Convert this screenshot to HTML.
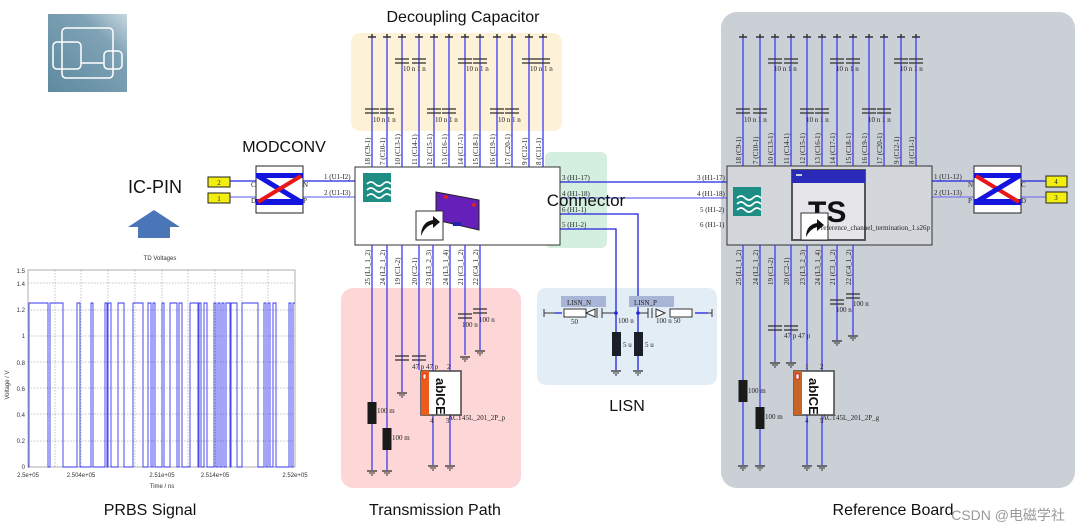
<!DOCTYPE html>
<html><head><meta charset="utf-8"><style>
html,body{margin:0;padding:0;background:#fff;width:1080px;height:531px;overflow:hidden}
svg{display:block}
.t{font-family:"Liberation Sans","Noto Sans CJK SC",sans-serif;fill:#111}
.s{font-family:"Liberation Serif",serif;font-size:7px;fill:#222}
</style></head><body>
<svg width="1080" height="531" viewBox="0 0 1080 531" xmlns="http://www.w3.org/2000/svg">
<defs>
<g id="gt"><line x1="-4" y1="0" x2="4" y2="0" stroke="#333" stroke-width="1.5"/><line x1="0" y1="-3" x2="0" y2="0" stroke="#333" stroke-width="1.5"/></g>
<g id="gb"><line x1="-5" y1="0" x2="5" y2="0" stroke="#333" stroke-width="1.3"/><line x1="-3" y1="2" x2="3" y2="2" stroke="#333" stroke-width="1"/><line x1="-1" y1="4" x2="1" y2="4" stroke="#333"/></g>
<g id="cp"><line x1="-7" y1="-2" x2="7" y2="-2" stroke="#333" stroke-width="1.3"/><line x1="-7" y1="2" x2="7" y2="2" stroke="#333" stroke-width="1.3"/></g>
<g id="rs"><rect x="-4.5" y="0" width="9" height="22" fill="#1a1a1a"/></g>
<linearGradient id="ig" x1="0" y1="1" x2="1" y2="0"><stop offset="0" stop-color="#5e8aa0"/><stop offset="0.7" stop-color="#7fa2b5"/><stop offset="1" stop-color="#c8d8e0"/></linearGradient>
</defs>

<rect x="351" y="33" width="211" height="98" rx="9" fill="#fdf1d8"/>
<rect x="545" y="152" width="62" height="96" rx="6" fill="#d4efdf"/>
<rect x="341" y="288" width="180" height="200" rx="12" fill="#fdd7d7"/>
<rect x="537" y="288" width="180" height="97" rx="9" fill="#e3edf6"/>
<rect x="721" y="12" width="354" height="476" rx="16" fill="#cbd0d7"/>

<rect x="48" y="14" width="79" height="78" fill="url(#ig)"/>
<g fill="none" stroke="#fff" stroke-width="1.5"><rect x="62" y="28" width="51" height="50" rx="4"/><rect x="53" y="42" width="28" height="27" rx="4"/><rect x="104" y="51" width="18" height="18" rx="4"/><line x1="81" y1="63" x2="104" y2="63"/></g>

<text class="t" x="463" y="22" font-size="16" text-anchor="middle">Decoupling Capacitor</text>
<text class="t" x="284" y="152" font-size="16" text-anchor="middle">MODCONV</text>
<text class="t" x="155" y="193" font-size="18" text-anchor="middle">IC-PIN</text>
<text class="t" x="627" y="411" font-size="16" text-anchor="middle">LISN</text>
<text class="t" x="150" y="515" font-size="16" text-anchor="middle">PRBS Signal</text>
<text class="t" x="435" y="515" font-size="16" text-anchor="middle">Transmission Path</text>
<text class="t" x="893" y="515" font-size="16" text-anchor="middle">Reference Board</text>
<text x="1065" y="520" font-size="14" text-anchor="end" fill="#999" font-family="Liberation Sans,Noto Sans CJK SC,sans-serif">CSDN @电磁学社</text>

<polygon points="128,227 154,210 180,227 170,227 170,238 138,238 138,227" fill="#4a76b8"/>

<g stroke="#3c3cf0" stroke-width="1.3">
<line x1="372" y1="36" x2="372" y2="167"/><line x1="387" y1="36" x2="387" y2="167"/><line x1="402" y1="36" x2="402" y2="167"/><line x1="419" y1="36" x2="419" y2="167"/><line x1="434" y1="36" x2="434" y2="167"/><line x1="449" y1="36" x2="449" y2="167"/><line x1="465" y1="36" x2="465" y2="167"/><line x1="480" y1="36" x2="480" y2="167"/><line x1="497" y1="36" x2="497" y2="167"/><line x1="512" y1="36" x2="512" y2="167"/><line x1="529" y1="36" x2="529" y2="167"/><line x1="543" y1="36" x2="543" y2="167"/>
</g>
<g><use href="#gt" x="372" y="37"/><use href="#gt" x="387" y="37"/><use href="#gt" x="402" y="37"/><use href="#gt" x="419" y="37"/><use href="#gt" x="434" y="37"/><use href="#gt" x="449" y="37"/><use href="#gt" x="465" y="37"/><use href="#gt" x="480" y="37"/><use href="#gt" x="497" y="37"/><use href="#gt" x="512" y="37"/><use href="#gt" x="529" y="37"/><use href="#gt" x="543" y="37"/>
<use href="#cp" x="402" y="61"/><use href="#cp" x="419" y="61"/><use href="#cp" x="465" y="61"/><use href="#cp" x="480" y="61"/><use href="#cp" x="529" y="61"/><use href="#cp" x="543" y="61"/>
<use href="#cp" x="372" y="111"/><use href="#cp" x="387" y="111"/><use href="#cp" x="434" y="111"/><use href="#cp" x="449" y="111"/><use href="#cp" x="497" y="111"/><use href="#cp" x="512" y="111"/></g>
<g class="s"><text x="403" y="71">10 n  1 n</text><text x="466" y="71">10 n  1 n</text><text x="530" y="71">10 n  1 n</text><text x="373" y="122">10 n  1 n</text><text x="435" y="122">10 n  1 n</text><text x="498" y="122">10 n  1 n</text></g>
<g class="s">
<text transform="translate(370,165) rotate(-90)">18 (C9-1)</text><text transform="translate(385,165) rotate(-90)">7 (C10-1)</text><text transform="translate(400,165) rotate(-90)">10 (C13-1)</text><text transform="translate(417,165) rotate(-90)">11 (C14-1)</text><text transform="translate(432,165) rotate(-90)">12 (C15-1)</text><text transform="translate(447,165) rotate(-90)">13 (C16-1)</text><text transform="translate(463,165) rotate(-90)">14 (C17-1)</text><text transform="translate(478,165) rotate(-90)">15 (C18-1)</text><text transform="translate(495,165) rotate(-90)">16 (C19-1)</text><text transform="translate(510,165) rotate(-90)">17 (C20-1)</text><text transform="translate(527,165) rotate(-90)">9 (C12-1)</text><text transform="translate(541,165) rotate(-90)">8 (C11-1)</text>
</g>

<g stroke="#3c3cf0" stroke-width="1.3">
<line x1="743" y1="36" x2="743" y2="166"/><line x1="760" y1="36" x2="760" y2="166"/><line x1="775" y1="36" x2="775" y2="166"/><line x1="791" y1="36" x2="791" y2="166"/><line x1="807" y1="36" x2="807" y2="166"/><line x1="822" y1="36" x2="822" y2="166"/><line x1="837" y1="36" x2="837" y2="166"/><line x1="853" y1="36" x2="853" y2="166"/><line x1="869" y1="36" x2="869" y2="166"/><line x1="884" y1="36" x2="884" y2="166"/><line x1="901" y1="36" x2="901" y2="166"/><line x1="916" y1="36" x2="916" y2="166"/>
</g>
<g><use href="#gt" x="743" y="37"/><use href="#gt" x="760" y="37"/><use href="#gt" x="775" y="37"/><use href="#gt" x="791" y="37"/><use href="#gt" x="807" y="37"/><use href="#gt" x="822" y="37"/><use href="#gt" x="837" y="37"/><use href="#gt" x="853" y="37"/><use href="#gt" x="869" y="37"/><use href="#gt" x="884" y="37"/><use href="#gt" x="901" y="37"/><use href="#gt" x="916" y="37"/>
<use href="#cp" x="775" y="61"/><use href="#cp" x="791" y="61"/><use href="#cp" x="837" y="61"/><use href="#cp" x="853" y="61"/><use href="#cp" x="901" y="61"/><use href="#cp" x="916" y="61"/>
<use href="#cp" x="743" y="111"/><use href="#cp" x="760" y="111"/><use href="#cp" x="807" y="111"/><use href="#cp" x="822" y="111"/><use href="#cp" x="869" y="111"/><use href="#cp" x="884" y="111"/></g>
<g class="s"><text x="774" y="71">10 n  1 n</text><text x="836" y="71">10 n  1 n</text><text x="900" y="71">10 n  1 n</text><text x="744" y="122">10 n  1 n</text><text x="806" y="122">10 n  1 n</text><text x="868" y="122">10 n  1 n</text></g>
<g class="s">
<text transform="translate(741,164) rotate(-90)">18 (C9-1)</text><text transform="translate(758,164) rotate(-90)">7 (C10-1)</text><text transform="translate(773,164) rotate(-90)">10 (C13-1)</text><text transform="translate(789,164) rotate(-90)">11 (C14-1)</text><text transform="translate(805,164) rotate(-90)">12 (C15-1)</text><text transform="translate(820,164) rotate(-90)">13 (C16-1)</text><text transform="translate(835,164) rotate(-90)">14 (C17-1)</text><text transform="translate(851,164) rotate(-90)">15 (C18-1)</text><text transform="translate(867,164) rotate(-90)">16 (C19-1)</text><text transform="translate(882,164) rotate(-90)">17 (C20-1)</text><text transform="translate(899,164) rotate(-90)">9 (C12-1)</text><text transform="translate(914,164) rotate(-90)">8 (C11-1)</text>
</g>

<g stroke="#2020e0" stroke-width="1.3" fill="none">
<line x1="560" y1="182" x2="727" y2="182"/>
<line x1="560" y1="198" x2="727" y2="198" stroke="#6a6af0"/>
<polyline points="560,214 638,214 638,300"/>
<polyline points="560,229 616,229 616,300"/>
<line x1="230" y1="181" x2="256" y2="181"/><line x1="230" y1="197" x2="256" y2="197" stroke="#7a7af0"/>
<line x1="303" y1="181" x2="355" y2="181"/><line x1="303" y1="197" x2="355" y2="197" stroke="#7a7af0"/>
<line x1="932" y1="181" x2="974" y2="181"/><line x1="932" y1="197" x2="974" y2="197" stroke="#7a7af0"/>
<line x1="1021" y1="181" x2="1046" y2="181"/><line x1="1021" y1="197" x2="1046" y2="197" stroke="#7a7af0"/>
</g>
<g class="s"><text x="562" y="180">3 (H1-17)</text><text x="562" y="196">4 (H1-18)</text><text x="562" y="212">6 (H1-1)</text><text x="562" y="227">5 (H1-2)</text>
<text x="697" y="180">3 (H1-17)</text><text x="697" y="196">4 (H1-18)</text><text x="700" y="212">5 (H1-2)</text><text x="700" y="227">6 (H1-1)</text>
<text x="324" y="179">1 (U1-I2)</text><text x="324" y="195">2 (U1-I3)</text>
<text x="934" y="179">1 (U1-12)</text><text x="934" y="195">2 (U1-13)</text>
<text x="251" y="187">C</text><text x="251" y="203">D</text><text x="303" y="187">N</text><text x="303" y="203">P</text>
<text x="968" y="187">N</text><text x="968" y="203">P</text><text x="1021" y="187">C</text><text x="1021" y="203">D</text></g>

<g stroke="#222" stroke-width="1" fill="#f2ee10"><rect x="208" y="177" width="22" height="10"/><rect x="208" y="193" width="22" height="10"/><rect x="1046" y="176" width="21" height="11"/><rect x="1046" y="192" width="21" height="11"/></g>
<g class="s" font-size="8" text-anchor="middle"><text x="219" y="185">2</text><text x="219" y="201">1</text><text x="1056" y="184">4</text><text x="1056" y="200">3</text></g>

<g>
<rect x="256" y="166" width="47" height="47" fill="#fff" stroke="#222"/>
<rect x="256" y="173" width="47" height="5" fill="#1414e0"/><rect x="256" y="199" width="47" height="6" fill="#1414e0"/>
<line x1="258" y1="176" x2="301" y2="202" stroke="#1414e0" stroke-width="5"/>
<line x1="258" y1="202" x2="301" y2="176" stroke="#e81818" stroke-width="4"/>
<rect x="974" y="166" width="47" height="47" fill="#fff" stroke="#222"/>
<rect x="974" y="173" width="47" height="5" fill="#1414e0"/><rect x="974" y="199" width="47" height="6" fill="#1414e0"/>
<line x1="976" y1="176" x2="1019" y2="202" stroke="#e81818" stroke-width="4"/>
<line x1="976" y1="202" x2="1019" y2="176" stroke="#1414e0" stroke-width="5"/>
</g>

<rect x="355" y="167" width="205" height="78" fill="#fff" stroke="#333"/>
<rect x="727" y="166" width="205" height="79" fill="#d3d6db" stroke="#333"/>
<g><rect x="363" y="173" width="28" height="29" fill="#1e8d84"/><path d="M367 184 q4 -4 8 0 t8 0 t8 0 M367 190 q4 -4 8 0 t8 0 t8 0 M367 196 q4 -4 8 0 t8 0 t8 0" stroke="#fff" stroke-width="1.6" fill="none"/>
<rect x="733" y="187" width="28" height="29" fill="#1e8d84"/><path d="M737 198 q4 -4 8 0 t8 0 t8 0 M737 204 q4 -4 8 0 t8 0 t8 0 M737 210 q4 -4 8 0 t8 0 t8 0" stroke="#fff" stroke-width="1.6" fill="none"/></g>
<polygon points="436,192 479,200 479,230 436,220" fill="#6420b8" stroke="#222"/>
<circle cx="446" cy="197" r="2" fill="#d22"/><circle cx="474" cy="205" r="2" fill="#d22"/><rect x="453" y="222" width="8" height="4" fill="#22a"/>
<g><rect x="416" y="211" width="27" height="29" fill="#fff" stroke="#333"/><path d="M421 236 q0 -14 12 -16 l0 -4 l7 6 l-7 6 l0 -4 q-8 2 -12 12z" fill="#111"/></g>
<g><rect x="792" y="170" width="73" height="70" fill="#e6e6ea" stroke="#555" stroke-width="2"/><rect x="792" y="170" width="73" height="13" fill="#2a2ab8"/><rect x="796" y="174" width="6" height="2" fill="#ccd"/>
<text x="808" y="222" font-family="Liberation Sans,sans-serif" font-size="30" font-weight="bold" fill="#111">TS</text>
<rect x="801" y="213" width="27" height="27" fill="#fff" stroke="#333"/><path d="M806 237 q0 -12 11 -14 l0 -4 l7 6 l-7 6 l0 -4 q-7 2 -11 10z" fill="#111"/>
<text class="s" x="821" y="230">reference_channel_termination_1.s26p</text></g>

<text class="t" x="586" y="206" font-size="17" text-anchor="middle">Connector</text>

<g stroke="#3c3cf0" stroke-width="1.3">
<line x1="372" y1="245" x2="372" y2="470"/><line x1="387" y1="245" x2="387" y2="470"/><line x1="402" y1="245" x2="402" y2="392"/><line x1="419" y1="245" x2="419" y2="370"/><line x1="433" y1="245" x2="433" y2="465"/><line x1="450" y1="245" x2="450" y2="465"/><line x1="465" y1="245" x2="465" y2="355"/><line x1="480" y1="245" x2="480" y2="350"/>
</g>
<g class="s"><text transform="translate(370,285) rotate(-90)">25 (L1_1_2)</text><text transform="translate(385,285) rotate(-90)">24 (L2_1_2)</text><text transform="translate(400,285) rotate(-90)">19 (C1-2)</text><text transform="translate(417,285) rotate(-90)">20 (C2-1)</text><text transform="translate(431,285) rotate(-90)">23 (L3_2_3)</text><text transform="translate(448,285) rotate(-90)">24 (L3_1_4)</text><text transform="translate(463,285) rotate(-90)">21 (C3_1_2)</text><text transform="translate(478,285) rotate(-90)">22 (C4_1_2)</text></g>
<use href="#cp" x="402" y="358"/><use href="#cp" x="419" y="358"/><use href="#cp" x="465" y="316"/><use href="#cp" x="480" y="311"/>
<use href="#rs" x="372" y="402"/><use href="#rs" x="387" y="428"/>
<use href="#gb" x="372" y="471"/><use href="#gb" x="387" y="471"/><use href="#gb" x="402" y="393"/><use href="#gb" x="433" y="466"/><use href="#gb" x="450" y="466"/><use href="#gb" x="465" y="357"/><use href="#gb" x="480" y="351"/>
<g class="s"><text x="377" y="413">100 m</text><text x="392" y="440">100 m</text><text x="412" y="369">47 p  47 p</text><text x="447" y="369">2</text><text x="462" y="327">100 n</text><text x="479" y="322">100 n</text><text x="430" y="423">4</text><text x="446" y="423">5</text><text x="448" y="420">ACT45L_201_2P_p</text></g>
<g><rect x="421" y="371" width="40" height="44" fill="#fff" stroke="#444" stroke-width="1.5"/><rect x="421" y="371" width="8" height="44" fill="#ee5a18"/><rect x="423" y="374" width="3" height="5" fill="#fff" stroke="#c00" stroke-width="0.6"/>
<text transform="translate(436,378) rotate(90)" font-family="Liberation Sans,sans-serif" font-size="13" font-weight="bold" fill="#111">abICE</text></g>

<g stroke="#3c3cf0" stroke-width="1.3">
<line x1="743" y1="245" x2="743" y2="465"/><line x1="760" y1="245" x2="760" y2="465"/><line x1="775" y1="245" x2="775" y2="362"/><line x1="791" y1="245" x2="791" y2="362"/><line x1="807" y1="245" x2="807" y2="465"/><line x1="822" y1="245" x2="822" y2="465"/><line x1="837" y1="245" x2="837" y2="340"/><line x1="853" y1="245" x2="853" y2="335"/>
</g>
<g class="s"><text transform="translate(741,285) rotate(-90)">25 (L1_1_2)</text><text transform="translate(758,285) rotate(-90)">24 (L2_1_2)</text><text transform="translate(773,285) rotate(-90)">19 (C1-2)</text><text transform="translate(789,285) rotate(-90)">20 (C2-1)</text><text transform="translate(805,285) rotate(-90)">23 (L3_2_3)</text><text transform="translate(820,285) rotate(-90)">24 (L3_1_4)</text><text transform="translate(835,285) rotate(-90)">21 (C3_1_2)</text><text transform="translate(851,285) rotate(-90)">22 (C4_1_2)</text></g>
<use href="#cp" x="775" y="328"/><use href="#cp" x="791" y="328"/><use href="#cp" x="837" y="302"/><use href="#cp" x="853" y="296"/>
<use href="#rs" x="743" y="380"/><use href="#rs" x="760" y="407"/>
<use href="#gb" x="743" y="466"/><use href="#gb" x="760" y="466"/><use href="#gb" x="775" y="363"/><use href="#gb" x="791" y="363"/><use href="#gb" x="807" y="466"/><use href="#gb" x="822" y="466"/><use href="#gb" x="837" y="341"/><use href="#gb" x="853" y="336"/>
<g class="s"><text x="748" y="393">100 m</text><text x="765" y="419">100 m</text><text x="784" y="338">47 p 47 p</text><text x="836" y="312">100 n</text><text x="853" y="306">100 n</text><text x="805" y="369">1</text><text x="820" y="369">2</text><text x="805" y="423">4</text><text x="820" y="423">5</text><text x="822" y="420">ACT45L_201_2P_g</text></g>
<g><rect x="794" y="371" width="40" height="44" fill="#fff" stroke="#444" stroke-width="1.5"/><rect x="794" y="371" width="8" height="44" fill="#c86428"/><rect x="796" y="374" width="3" height="5" fill="#fff" stroke="#c00" stroke-width="0.6"/>
<text transform="translate(809,378) rotate(90)" font-family="Liberation Sans,sans-serif" font-size="13" font-weight="bold" fill="#111">abICE</text></g>

<g stroke="#2020e0" stroke-width="1.3"><line x1="616" y1="300" x2="616" y2="370"/><line x1="638" y1="300" x2="638" y2="370"/><line x1="555" y1="313" x2="562" y2="313"/><line x1="695" y1="313" x2="708" y2="313"/></g>
<rect x="561" y="296" width="45" height="11" fill="#a9b5d6"/><rect x="629" y="296" width="45" height="11" fill="#a9b5d6"/>
<g class="s" font-size="9"><text x="567" y="305">LISN_N</text><text x="634" y="305">LISN_P</text></g>
<g stroke="#333" fill="#fff" stroke-width="1"><line x1="544" y1="313" x2="556" y2="313"/><line x1="544" y1="309" x2="544" y2="317"/><rect x="564" y="309" width="22" height="8"/><polygon points="586,313 595,309 595,317"/><line x1="597" y1="308" x2="597" y2="318"/><line x1="602" y1="308" x2="602" y2="318"/><line x1="602" y1="313" x2="616" y2="313"/>
<line x1="638" y1="313" x2="648" y2="313"/><line x1="648" y1="308" x2="648" y2="318"/><line x1="652" y1="308" x2="652" y2="318"/><polygon points="656,309 665,313 656,317"/><rect x="670" y="309" width="22" height="8"/><line x1="708" y1="313" x2="712" y2="313"/><line x1="712" y1="309" x2="712" y2="317"/></g>
<circle cx="616" cy="313" r="1.8" fill="#2020e0"/><circle cx="638" cy="313" r="1.8" fill="#2020e0"/>
<rect x="612" y="332" width="9" height="24" fill="#1a1f28"/><rect x="634" y="332" width="9" height="24" fill="#1a1f28"/>
<use href="#gb" x="616" y="371"/><use href="#gb" x="638" y="371"/>
<g class="s"><text x="571" y="324">50</text><text x="618" y="323">100 n</text><text x="656" y="323">100 n  50</text><text x="623" y="347">5 u</text><text x="645" y="347">5 u</text></g>

<text x="160" y="260" font-size="6" font-family="Liberation Sans,sans-serif" text-anchor="middle" fill="#333">TD Voltages</text>
<rect x="28" y="270" width="267" height="197" fill="#fff" stroke="#999" stroke-width="0.8"/>
<g stroke="#888" stroke-width="0.5" stroke-dasharray="1.5 1.5">
<line x1="28" y1="283" x2="295" y2="283"/><line x1="28" y1="310" x2="295" y2="310"/><line x1="28" y1="336" x2="295" y2="336"/><line x1="28" y1="362" x2="295" y2="362"/><line x1="28" y1="388" x2="295" y2="388"/><line x1="28" y1="414" x2="295" y2="414"/><line x1="28" y1="441" x2="295" y2="441"/>
<line x1="55" y1="270" x2="55" y2="467"/><line x1="81" y1="270" x2="81" y2="467"/><line x1="108" y1="270" x2="108" y2="467"/><line x1="135" y1="270" x2="135" y2="467"/><line x1="162" y1="270" x2="162" y2="467"/><line x1="188" y1="270" x2="188" y2="467"/><line x1="215" y1="270" x2="215" y2="467"/><line x1="242" y1="270" x2="242" y2="467"/><line x1="268" y1="270" x2="268" y2="467"/>
</g>
<path fill="none" stroke="#3535f0" stroke-width="0.9" d="M28 467 L29 467 L29 303 L48 303 L48 467 L50 467 L50 303 L63 303 L63 467 L77 467 L77 303 L80 303 L80 467 L91 467 L91 303 L93 303 L93 467 L105 467 L105 303 L107 303 L107 467 L108 467 L108 303 L111 303 L111 467 L118 467 L118 303 L124 303 L124 467 L133 467 L133 303 L143 303 L143 467 L148 467 L148 303 L151 303 L151 467 L153 467 L153 303 L155 303 L155 467 L162 467 L162 303 L164 303 L164 467 L170 467 L170 303 L177 303 L177 467 L179 467 L179 303 L182 303 L182 467 L190 467 L190 303 L198 303 L198 467 L199 467 L199 303 L201 303 L201 467 L204 467 L204 303 L207 303 L207 467 L214 467 L214 303 L216 303 L216 467 L218 467 L218 303 L220 303 L220 467 L222 467 L222 303 L224 303 L224 467 L226 467 L226 303 L230 303 L230 467 L231 467 L231 303 L237 303 L237 467 L242 467 L242 303 L258 303 L258 467 L264 467 L264 303 L266 303 L266 467 L268 467 L268 303 L270 303 L270 467 L273 467 L273 303 L276 303 L276 467 L289 467 L289 303 L291 303 L291 467 L293 467 L293 303 L295 303"/>
<g font-family="Liberation Sans,sans-serif" font-size="6" fill="#333" text-anchor="end">
<text x="25" y="273">1.5</text><text x="25" y="286">1.4</text><text x="25" y="312">1.2</text><text x="25" y="338">1</text><text x="25" y="365">0.8</text><text x="25" y="391">0.6</text><text x="25" y="417">0.4</text><text x="25" y="443">0.2</text><text x="25" y="469">0</text></g>
<g font-family="Liberation Sans,sans-serif" font-size="6" fill="#333" text-anchor="middle">
<text x="28" y="477">2.5e+05</text><text x="81" y="477">2.504e+05</text><text x="162" y="477">2.51e+05</text><text x="215" y="477">2.514e+05</text><text x="295" y="477">2.52e+05</text><text x="162" y="488">Time / ns</text></g>
<text transform="translate(9,385) rotate(-90)" font-family="Liberation Sans,sans-serif" font-size="6" fill="#333" text-anchor="middle">Voltage / V</text>
</svg>
</body></html>
